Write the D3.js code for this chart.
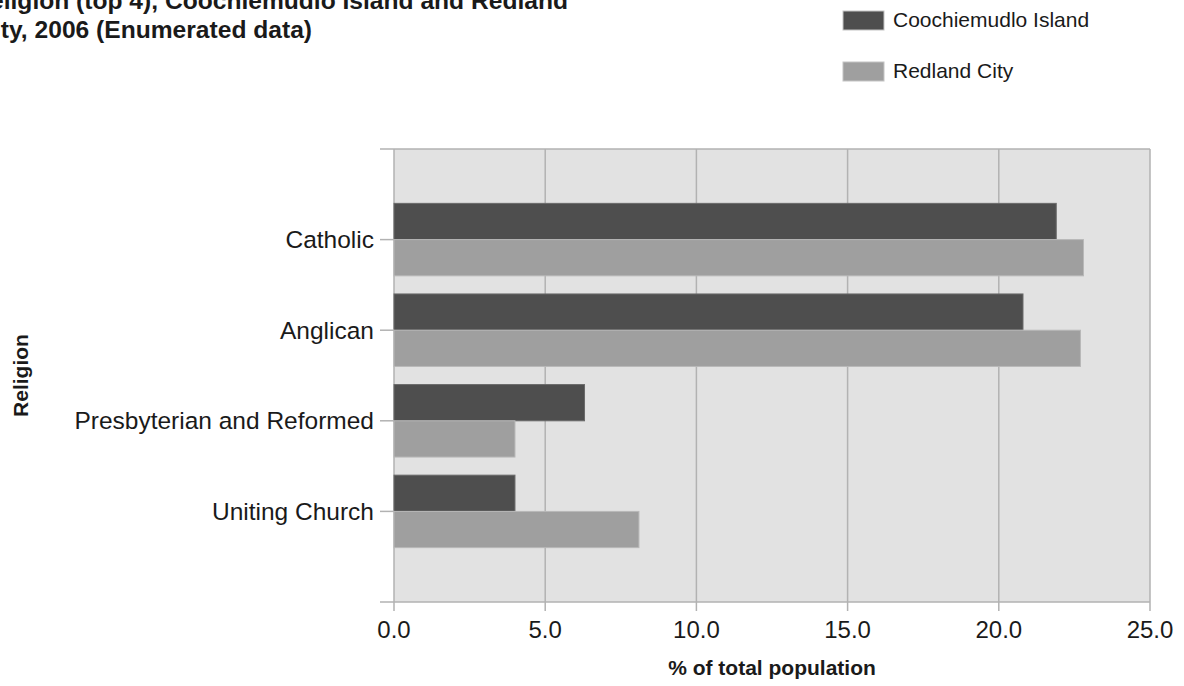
<!DOCTYPE html>
<html><head><meta charset="utf-8">
<script src="https://cdn.jsdelivr.net/npm/d3@7"></script>
<style>
html,body{margin:0;padding:0;background:#fff;overflow:hidden}
text{font-family:"Liberation Sans",Arial,sans-serif;fill:#1a1a1a}
</style></head>
<body>
<svg id="c" width="1184" height="686"></svg>
<script>
const titleLines = ["Religion (top 4), Coochiemudlo Island and Redland", "City, 2006 (Enumerated data)"];
const categories = ["Catholic", "Anglican", "Presbyterian and Reformed", "Uniting Church"];
const seriesNames = ["Coochiemudlo Island", "Redland City"];
const coochiemudlo = [21.9, 20.8, 6.3, 4.0];
const redland = [22.8, 22.7, 4.0, 8.1];
const xTicks = [0, 5, 10, 15, 20, 25];
const xTitle = "% of total population";
const yTitle = "Religion";
const colors = ["#4e4e4e", "#9f9f9f"];

const svg = d3.select("#c");
const L = 394, R = 1150, T = 149, B = 602;
const x = d3.scaleLinear().domain([0, 25]).range([L, R]);
const y = d3.scalePoint().domain(categories).range([T, B]).padding(1);
const step = y.step();
const inner = d3.scaleBand().domain(seriesNames).range([-0.4 * step, 0.4 * step]);
const lineCol = "#b2b2b2";

// title
const tt = svg.append("g");
tt.append("text").attr("x", 568).attr("y", 9).attr("text-anchor", "end")
  .attr("font-size", 24.6).attr("font-weight", "bold").text(titleLines[0]);
tt.append("text").attr("x", 312).attr("y", 38).attr("text-anchor", "end")
  .attr("font-size", 24.6).attr("font-weight", "bold").text(titleLines[1]);

// legend
const lg = svg.append("g");
seriesNames.forEach((s, i) => {
  const yy = 11 + i * 51;
  lg.append("rect").attr("x", 843).attr("y", yy).attr("width", 41).attr("height", 19)
    .attr("fill", colors[i]).attr("stroke", "#c4c4c4").attr("stroke-width", 1);
  lg.append("text").attr("x", 893).attr("y", yy + 16).attr("font-size", 21).text(s);
});

// plot background
svg.append("rect").attr("x", L).attr("y", T).attr("width", R - L).attr("height", B - T).attr("fill", "#e2e2e2");

// grid
svg.append("g").selectAll("line").data(xTicks).join("line")
  .attr("x1", d => x(d)).attr("x2", d => x(d)).attr("y1", T).attr("y2", B + 9)
  .attr("stroke", lineCol).attr("stroke-width", 1.5);

// horizontal border lines
[T, B].forEach(v => svg.append("line").attr("x1", 380).attr("x2", R).attr("y1", v).attr("y2", v)
  .attr("stroke", lineCol).attr("stroke-width", 1.5));

// bars
const data = categories.map((c, i) => ({c, vals: [coochiemudlo[i], redland[i]]}));
const g = svg.append("g");
data.forEach(d => {
  d.vals.forEach((v, j) => {
    const s = seriesNames[j];
    g.append("rect")
      .attr("x", x(0)).attr("y", y(d.c) + inner(s))
      .attr("width", x(v) - x(0)).attr("height", inner.bandwidth())
      .attr("fill", colors[j]).attr("stroke", j === 0 ? "#6a6a6a" : "#b8b8b8").attr("stroke-width", 1);
  });
});

// y ticks and labels
const ya = svg.append("g");
categories.forEach(c => {
  ya.append("line").attr("x1", 380).attr("x2", L).attr("y1", y(c)).attr("y2", y(c))
    .attr("stroke", lineCol).attr("stroke-width", 1.5);
  ya.append("text").attr("x", 374).attr("y", y(c)).attr("dy", "0.35em")
    .attr("text-anchor", "end").attr("font-size", 24.5).text(c);
});

// x tick labels
svg.append("g").selectAll("text").data(xTicks).join("text")
  .attr("x", d => x(d)).attr("y", 638).attr("text-anchor", "middle").attr("font-size", 24)
  .text(d => d3.format(".1f")(d));

// axis titles
svg.append("text").attr("x", (L + R) / 2).attr("y", 675).attr("text-anchor", "middle")
  .attr("font-size", 21).attr("font-weight", "bold").text(xTitle);
svg.append("text").attr("transform", `translate(28,${(T + B) / 2}) rotate(-90)`)
  .attr("text-anchor", "middle").attr("font-size", 21).attr("font-weight", "bold").text(yTitle);
</script>
</body></html>
